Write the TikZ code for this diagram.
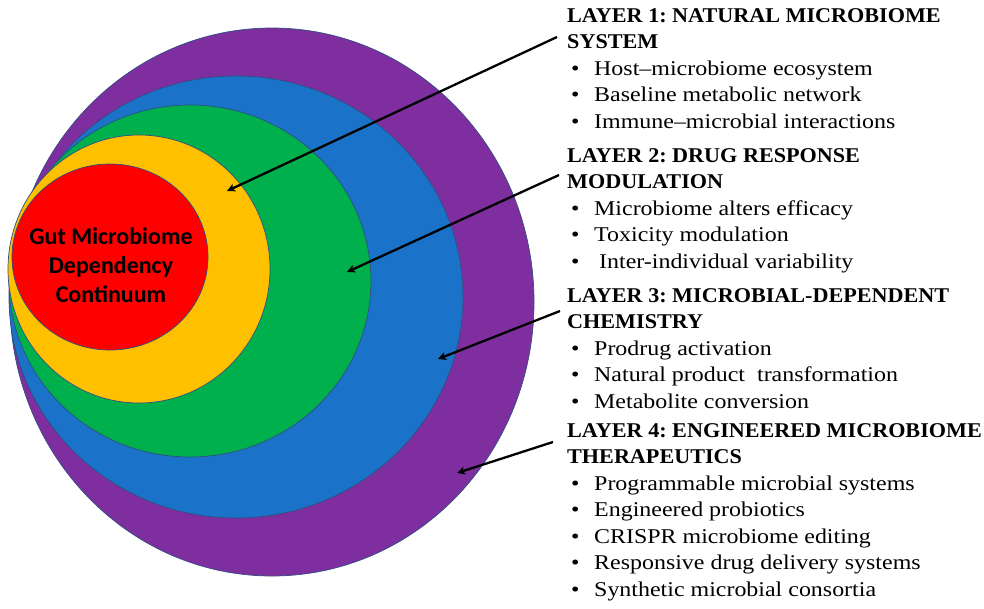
\documentclass[tikz,border=0pt]{standalone}
\usepackage{fontspec}
\setmainfont{Liberation Serif}
\newfontfamily\calibrifont{Carlito}
\newfontfamily\headfont{Liberation Serif}[FakeStretch=1.055]
\newfontfamily\itemfont{Liberation Serif}[FakeStretch=1.14]
\usetikzlibrary{arrows.meta}
\definecolor{ringpurple}{HTML}{7F2EA0}
\definecolor{ringblue}{HTML}{1A73C8}
\definecolor{ringgreen}{HTML}{00B04C}
\definecolor{ringyellow}{HTML}{FFC000}
\definecolor{ringred}{HTML}{FF0000}
\definecolor{ringline}{HTML}{2F4F80}
\frenchspacing
\begin{document}
\begin{tikzpicture}[x=1pt,y=-1pt,
    ring/.style={draw=ringline, line width=0.7pt},
    pointer/.style={-{Stealth[length=8pt,width=8pt,inset=2pt]}, line width=2.3pt},
    head/.style={anchor=base west, inner sep=0pt, font=\headfont\fontsize{21}{24}\selectfont\bfseries},
    bul/.style={anchor=base west, inner sep=0pt, font=\itemfont\fontsize{21}{24}\selectfont}]
  \useasboundingbox (0,0) rectangle (984,608);
  % rings, outer to inner
  \draw[ring, fill=ringpurple] (272,302) ellipse (262 and 274);
  \draw[ring, fill=ringblue] (236,297) ellipse (227 and 221);
  \draw[ring, fill=ringgreen] (190,281) ellipse (181 and 176);
  \draw[ring, fill=ringyellow] (139,269) ellipse (131 and 134);
  \draw[ring, fill=ringred] (110,257) ellipse (98 and 93);
  \node[align=center, font=\calibrifont\bfseries\fontsize{24}{29}\selectfont] (core) at (111,265)
    {Gut Microbiome\\Dependency\\Continuum};
  % layer 1
  \node[head] (h1a) at (567,22) {LAYER 1: NATURAL MICROBIOME};
  \node[head] (h1b) at (567,48) {SYSTEM};
  \foreach \y/\t in {75/Host–microbiome ecosystem, 101/Baseline metabolic network,
      128/Immune–microbial interactions} {
    \node[bul] (d\y) at (571,\y) {•};
    \node[bul] (b\y) at (594,\y) {\t};
  }
  % layer 2
  \node[head] (h2a) at (567,162) {LAYER 2: DRUG RESPONSE};
  \node[head] (h2b) at (567,188) {MODULATION};
  \foreach \y/\t in {215/Microbiome alters efficacy, 241/Toxicity modulation} {
    \node[bul] (d\y) at (571,\y) {•};
    \node[bul] (b\y) at (594,\y) {\t};
  }
  \node[bul] (d268) at (571,268) {•};
  \node[bul] (b268) at (599,268) {Inter-individual variability};
  % layer 3
  \node[head] (h3a) at (567,302) {LAYER 3: MICROBIAL-DEPENDENT};
  \node[head] (h3b) at (567,328) {CHEMISTRY};
  \foreach \y/\t in {355/Prodrug activation, 381/Natural product~ transformation,
      408/Metabolite conversion} {
    \node[bul] (d\y) at (571,\y) {•};
    \node[bul] (b\y) at (594,\y) {\t};
  }
  % layer 4
  \node[head] (h4a) at (567,437) {LAYER 4: ENGINEERED MICROBIOME};
  \node[head] (h4b) at (567,463) {THERAPEUTICS};
  \foreach \y/\t in {490/Programmable microbial systems, 516/Engineered probiotics,
      543/CRISPR microbiome editing, 569/Responsive drug delivery systems,
      596/Synthetic microbial consortia} {
    \node[bul] (d\y) at (571,\y) {•};
    \node[bul] (b\y) at (594,\y) {\t};
  }
  % pointers
  \coordinate (s1) at (557,37);  \coordinate (t1) at (227,191);
  \coordinate (s2) at (559,175); \coordinate (t2) at (347,272);
  \coordinate (s3) at (560,311); \coordinate (t3) at (438,359);
  \coordinate (s4) at (553,442); \coordinate (t4) at (457,473);
  \draw[pointer] (s1) -- (t1);
  \draw[pointer] (s2) -- (t2);
  \draw[pointer] (s3) -- (t3);
  \draw[pointer] (s4) -- (t4);
\end{tikzpicture}
\end{document}
